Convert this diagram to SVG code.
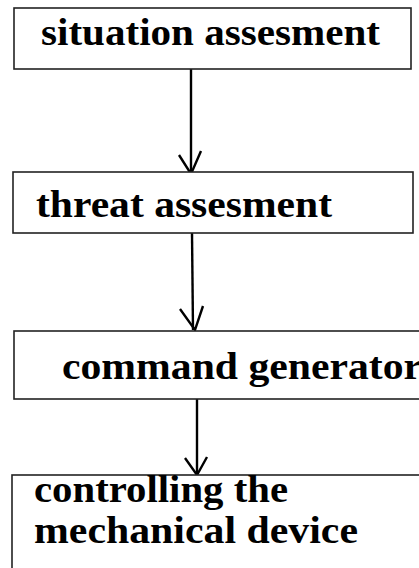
<svg xmlns="http://www.w3.org/2000/svg" width="419" height="568" viewBox="0 0 419 568">
<style>
.box{fill:#fff;stroke:#222;stroke-width:1.6}
.lbl{font-family:"Liberation Serif","Times New Roman",serif;font-weight:bold;font-size:37px;fill:#000}
.con{fill:none;stroke:#000;stroke-width:2.4}
</style>
<rect width="419" height="568" fill="#fff"/>
<g id="connectors">
<line class="con" x1="191" y1="69" x2="191" y2="173"/>
<polyline class="con" points="179,155 191,174 201,151"/>
<line class="con" x1="192" y1="233" x2="193" y2="330"/>
<polyline class="con" points="180,309 195,330 203,306"/>
<line class="con" x1="197" y1="399" x2="197" y2="475"/>
<polyline class="con" points="185,458 197,475 207,457"/>
</g>
<g id="n1">
<rect class="box" x="14" y="8" width="397" height="61"/>
<text class="lbl" x="41" y="45" textLength="339" lengthAdjust="spacingAndGlyphs">situation assesment</text>
</g>
<g id="n2">
<rect class="box" x="13" y="172" width="400" height="61"/>
<text class="lbl" x="36" y="217" textLength="296" lengthAdjust="spacingAndGlyphs">threat assesment</text>
</g>
<g id="n3">
<rect class="box" x="14" y="331" width="410" height="68"/>
<text class="lbl" x="62" y="379" textLength="360" lengthAdjust="spacingAndGlyphs">command generator</text>
</g>
<g id="n4">
<rect class="box" x="12" y="475" width="412" height="100"/>
<text class="lbl" x="34" y="502" textLength="254" lengthAdjust="spacingAndGlyphs">controlling the</text>
<text class="lbl" x="34" y="543" textLength="324" lengthAdjust="spacingAndGlyphs">mechanical device</text>
</g>
</svg>
